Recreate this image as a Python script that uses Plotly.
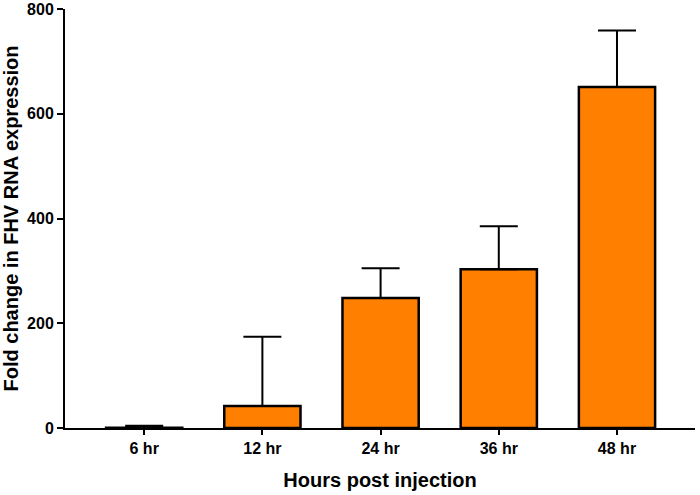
import plotly.graph_objects as go

categories = ["6 hr", "12 hr", "24 hr", "36 hr", "48 hr"]
values = [0.5, 42, 248, 303, 651]
errors_upper = [4, 132, 57, 82, 108]
y_ticks = [0, 200, 400, 600, 800]

fig = go.Figure()
fig.add_trace(go.Bar(
    x=categories, y=values, width=0.645,
    marker=dict(color="#FF7F00", line=dict(color="black", width=2.5)),
    error_y=dict(type="data", symmetric=False, array=errors_upper,
                 arrayminus=[0] * len(values), color="black",
                 thickness=2, width=19),
))

font = dict(family="Liberation Sans, Arial, sans-serif", color="black", weight="bold")

fig.update_layout(
    width=700, height=495,
    margin=dict(l=65, r=5, t=9, b=67),
    plot_bgcolor="white", paper_bgcolor="white",
    showlegend=False,
    font=font,
    xaxis=dict(
        range=[-0.67, 4.66], showline=True, linecolor="black", linewidth=2,
        ticks="outside", ticklen=5, tickwidth=2, tickcolor="black",
        tickfont=dict(size=16, **font), showgrid=False, zeroline=False,
        automargin=False,
        title=dict(text="Hours post injection", font=dict(size=20, **font), standoff=17),
    ),
    yaxis=dict(
        range=[0, 800], tickvals=y_ticks, showline=True, linecolor="black", linewidth=2,
        ticks="outside", ticklen=6, tickwidth=2, tickcolor="black",
        tickfont=dict(size=16, **font), showgrid=False, zeroline=False,
        automargin=False, ticklabeloverflow="allow",
        title=dict(text="Fold change in FHV RNA expression", font=dict(size=20, **font), standoff=4),
    ),
)

fig.write_html("out.html", config={"displayModeBar": False},
               post_script="document.body.style.margin='0';")
